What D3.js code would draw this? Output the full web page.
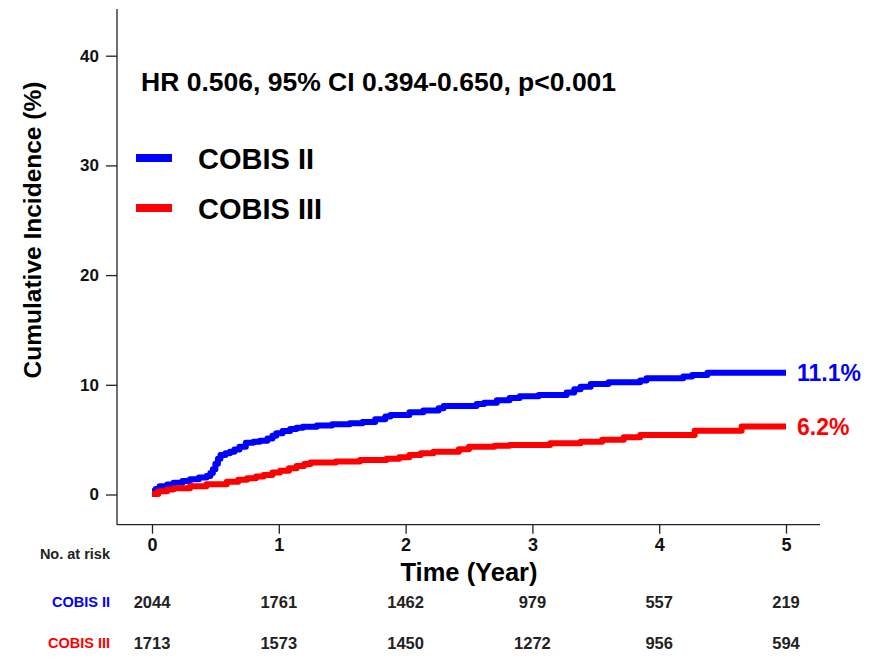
<!DOCTYPE html>
<html>
<head>
<meta charset="utf-8">
<script src="https://cdn.jsdelivr.net/npm/d3@7"></script>
<style>
  body { margin: 0; background: #fff; }
  svg { font-family: Arial, "Liberation Sans", sans-serif; }
</style>
</head>
<body>
<div id="chart"></div>
<script>
// cumulative incidence, [year, %]
const cobis2 = [
	[0, 0.3], [0.03, 0.5], [0.06, 0.75], [0.12, 0.92], [0.17, 1.08], [0.24, 1.22],
	[0.3, 1.39], [0.37, 1.55], [0.43, 1.69], [0.46, 1.95], [0.48, 2.3], [0.5, 2.8],
	[0.52, 3.25], [0.54, 3.6], [0.58, 3.75], [0.615, 3.9], [0.65, 4.1], [0.69, 4.36],
	[0.74, 4.72], [0.8, 4.8], [0.85, 4.9], [0.91, 5.1], [0.95, 5.35], [0.98, 5.58],
	[1.03, 5.78], [1.09, 5.97], [1.14, 6.08], [1.19, 6.18], [1.3, 6.3], [1.42, 6.4],
	[1.56, 6.49], [1.66, 6.62], [1.76, 6.86], [1.84, 7.1], [1.88, 7.25], [2.03, 7.49],
	[2.14, 7.66], [2.26, 7.86], [2.3, 8.07], [2.56, 8.25], [2.62, 8.37], [2.72, 8.6],
	[2.82, 8.8], [2.9, 8.95], [3.05, 9.07], [3.27, 9.3], [3.33, 9.6], [3.38, 9.83],
	[3.46, 10.07], [3.6, 10.23], [3.85, 10.4], [3.9, 10.59], [4.19, 10.75], [4.26, 10.9],
	[4.38, 11.1], [5.0, 11.1]
];

const cobis3 = [
	[0, 0.05], [0.05, 0.3], [0.12, 0.45], [0.17, 0.56], [0.3, 0.75], [0.43, 0.93],
	[0.59, 1.17], [0.68, 1.35], [0.75, 1.48], [0.82, 1.65], [0.88, 1.78], [0.95, 2.0],
	[1.01, 2.17], [1.08, 2.4], [1.14, 2.6], [1.2, 2.78], [1.25, 2.92], [1.45, 3.0],
	[1.64, 3.14], [1.85, 3.25], [1.95, 3.39], [2.03, 3.6], [2.12, 3.75], [2.22, 3.9],
	[2.42, 4.12], [2.5, 4.36], [2.7, 4.45], [2.82, 4.51], [3.14, 4.67], [3.38, 4.81],
	[3.55, 5.0], [3.72, 5.21], [3.85, 5.42], [4.28, 5.82], [4.65, 6.2], [5.0, 6.2]
];

const seriesNames = ["COBIS II", "COBIS III"];
const seriesColors = ["#0000ff", "#ff0000"];
const endLabels = ["11.1%", "6.2%"];
const xTicks = [0, 1, 2, 3, 4, 5];
const yTicks = [0, 10, 20, 30, 40];
const riskCobis2 = [2044, 1761, 1462, 979, 557, 219];
const riskCobis3 = [1713, 1573, 1450, 1272, 956, 594];
const hrText = "HR 0.506, 95% CI 0.394-0.650, p<0.001";

const width = 879;
const height = 660;

const svg = d3
	.select("#chart")
	.append("svg")
	.attr("width", width)
	.attr("height", height);

const x = d3.scaleLinear().domain([0, 5]).range([152, 786]);
const y = d3.scaleLinear().domain([0, 40]).range([494.5, 55.7]);

const axisY = 524.7;
const axisX = 117;

// frame lines
svg.append("line")
	.attr("x1", axisX).attr("x2", axisX)
	.attr("y1", 9).attr("y2", axisY)
	.attr("stroke", "#222").attr("stroke-width", 1.3);
svg.append("line")
	.attr("x1", axisX).attr("x2", 820)
	.attr("y1", axisY).attr("y2", axisY)
	.attr("stroke", "#222").attr("stroke-width", 1.3);

// y axis
const yAxis = svg.append("g")
	.attr("transform", `translate(${axisX},0)`)
	.call(d3.axisLeft(y).tickValues(yTicks).tickFormat(d3.format("d")).tickSize(11).tickPadding(7));
yAxis.select(".domain").remove();
yAxis.selectAll("line").attr("stroke", "#222").attr("stroke-width", 1.3);
yAxis.selectAll("text")
	.attr("fill", "#111")
	.style("font-size", "17px")
	.style("font-weight", "bold");

// x axis
const xAxis = svg.append("g")
	.attr("transform", `translate(0,${axisY})`)
	.call(d3.axisBottom(x).tickValues(xTicks).tickFormat(d3.format("d")).tickSize(9).tickPadding(5));
xAxis.select(".domain").remove();
xAxis.selectAll("line").attr("stroke", "#222").attr("stroke-width", 1.3);
xAxis.selectAll("text")
	.attr("fill", "#111")
	.style("font-size", "18px")
	.style("font-weight", "bold");

// axis titles
svg.append("text")
	.attr("transform", "translate(41,230) rotate(-90)")
	.attr("text-anchor", "middle")
	.style("font-size", "24.5px")
	.style("font-weight", "bold")
	.text("Cumulative Incidence (%)");

svg.append("text")
	.attr("x", (x(0) + x(5)) / 2)
	.attr("y", 581)
	.attr("text-anchor", "middle")
	.style("font-size", "25.5px")
	.style("font-weight", "bold")
	.text("Time (Year)");

svg.append("text")
	.attr("x", 141)
	.attr("y", 91)
	.style("font-size", "26.5px")
	.style("font-weight", "bold")
	.text(hrText);

// curves
const line = d3.line()
	.x((d) => x(d[0]))
	.y((d) => y(d[1]))
	.curve(d3.curveStepAfter);

[cobis2, cobis3].forEach((data, i) => {
	svg.append("path")
		.datum(data)
		.attr("fill", "none")
		.attr("stroke", seriesColors[i])
		.attr("stroke-width", 6)
		.attr("stroke-linejoin", "round")
		.attr("d", line);

	const last = data[data.length - 1];
	svg.append("text")
		.attr("x", x(last[0]) + 11)
		.attr("y", y(last[1]))
		.attr("dy", "0.35em")
		.attr("fill", seriesColors[i])
		.style("font-size", "23px")
		.style("font-weight", "bold")
		.text(endLabels[i]);
});

// legend
seriesNames.forEach((name, i) => {
	const ly = 158 + i * 50;
	svg.append("rect")
		.attr("x", 136)
		.attr("y", ly - 4)
		.attr("width", 36)
		.attr("height", 8)
		.attr("fill", seriesColors[i]);
	svg.append("text")
		.attr("x", 198)
		.attr("y", ly + 11)
		.style("font-size", "29px")
		.style("font-weight", "bold")
		.text(name);
});

// number at risk
svg.append("text")
	.attr("x", 110)
	.attr("y", 559)
	.attr("text-anchor", "end")
	.style("font-size", "14.5px")
	.style("font-weight", "bold")
	.attr("fill", "#222")
	.text("No.  at risk");

[riskCobis2, riskCobis3].forEach((row, i) => {
	const ry = 602 + i * 41;
	svg.append("text")
		.attr("x", 110)
		.attr("y", ry)
		.attr("dy", "0.35em")
		.attr("text-anchor", "end")
		.attr("fill", seriesColors[i])
		.style("font-size", "14.5px")
		.style("font-weight", "bold")
		.text(seriesNames[i]);

	svg.selectAll(null)
		.data(row)
		.enter()
		.append("text")
		.attr("x", (d, j) => x(xTicks[j]))
		.attr("y", ry)
		.attr("dy", "0.35em")
		.attr("text-anchor", "middle")
		.attr("fill", "#222")
		.style("font-size", "16.5px")
		.style("font-weight", "bold")
		.text((d) => d);
});
</script>
</body>
</html>
